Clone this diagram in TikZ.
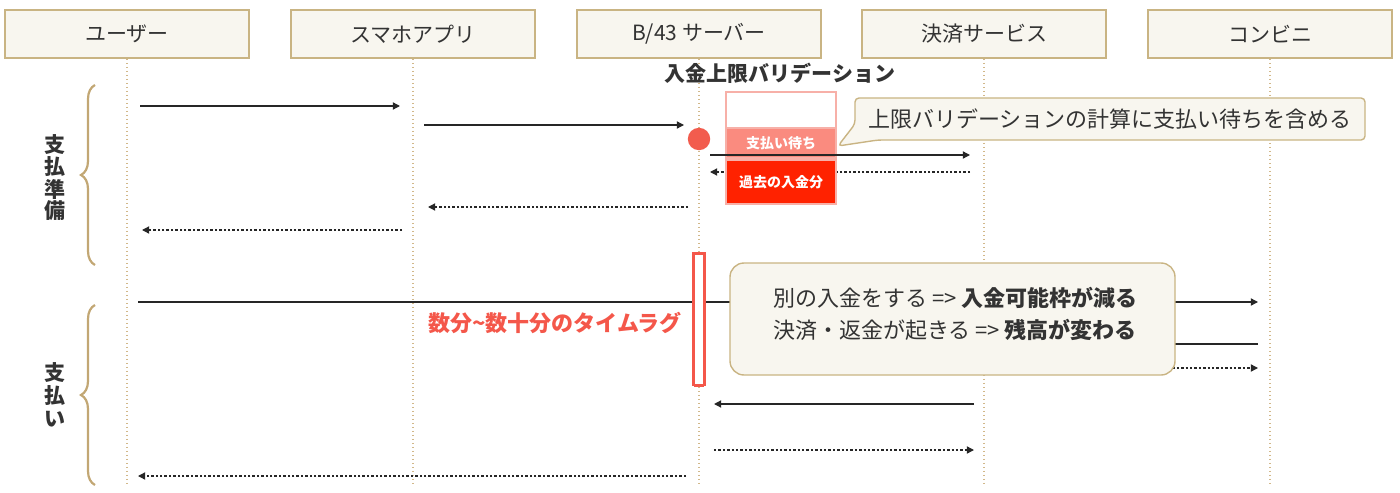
\documentclass[tikz,border=0pt]{standalone}
\usepackage{fontspec}
\setmainfont{Noto Sans CJK JP}
\usetikzlibrary{arrows.meta,decorations.pathreplacing,decorations.pathmorphing}
\definecolor{cream}{HTML}{F8F6EF}
\definecolor{tanline}{HTML}{C9B483}
\definecolor{lifecol}{HTML}{D2B88A}
\definecolor{bracecol}{HTML}{C2A774}
\definecolor{txt}{HTML}{333333}
\definecolor{dotred}{HTML}{F25C4E}
\definecolor{salmon}{HTML}{FA8B7F}
\definecolor{deepred}{HTML}{FF2200}
\definecolor{pinkline}{HTML}{F7B0A8}
\definecolor{lagred}{HTML}{F4574A}
\begin{document}
\begin{tikzpicture}[x=0.5pt,y=-0.5pt,
  header/.style={draw=tanline,line width=0.8pt,fill=cream,minimum width=122pt,minimum height=24pt,inner sep=0pt,text=txt,font=\fontsize{10.5}{12}\selectfont},
  lifeline/.style={draw=lifecol,line width=0.55pt,dash pattern=on 0.8pt off 1.2pt},
  msg/.style={draw=black!85,line width=0.65pt,-{Triangle[length=3.6pt,width=3.6pt]}},
  reply/.style={msg,dash pattern=on 1.2pt off 1pt},
  bracestyle/.style={draw=bracecol,line width=1.1pt,decorate,decoration={brace,amplitude=7pt}},
  sidelabel/.style={text=txt,inner sep=0pt,font=\bfseries\fontsize{10.5}{12}\selectfont},
  seg/.style={draw=pinkline,line width=0.6pt},
  segtext/.style={text=white,font=\bfseries\fontsize{7}{8}\selectfont},
  notebox/.style={draw=tanline,line width=0.7pt,fill=cream},
  notetext/.style={text=txt,font=\fontsize{11}{13}\selectfont},
]
\useasboundingbox (0,0) rectangle (1400,492);

% headers
\node[header] (hU) at (127,34) {ユーザー};
\node[header] (hA) at (413,34) {スマホアプリ};
\node[header] (hS) at (699,34) {B/43 サーバー};
\node[header] (hP) at (984,34) {決済サービス};
\node[header] (hC) at (1270,34) {コンビニ};

% lifelines
\foreach \h in {hU,hA,hS,hP,hC} \draw[lifeline] (\h.south) -- ++(0,427);

% braces and vertical labels
\draw[bracestyle] (95,265) -- (95,85);
\node[sidelabel] (lbPrepA) at (55,145) {支};
\node[sidelabel] (lbPrepB) at (55,167) {払};
\node[sidelabel] (lbPrepC) at (55,189) {準};
\node[sidelabel] (lbPrepD) at (55,211) {備};
\draw[bracestyle] (95,485) -- (95,305);
\node[sidelabel] (lbPayA) at (55,373) {支};
\node[sidelabel] (lbPayB) at (55,396) {払};
\node[sidelabel] (lbPayC) at (55,419) {い};

% messages: payment preparation
\draw[msg] (140,106) -- (400,106);
\draw[msg] (424,125) -- (684,125);
\draw[reply] (970,172) -- (710,172);
\draw[reply] (688,207) -- (428,207);
\draw[reply] (402,230) -- (142,230);

% messages: payment
\draw[msg] (138,302) -- (1258,302);
\draw[msg] (1258,344) -- (992,344);
\draw[reply] (992,368) -- (1258,368);
\draw[msg] (974,404) -- (714,404);
\draw[reply] (714,450) -- (974,450);
\draw[reply] (686,476) -- (138,476);

% validation title
\node[text=txt,font=\bfseries\fontsize{10.5}{12}\selectfont] (vtitle) at (780,73) {入金上限バリデーション};

% red dot
\fill[dotred] (699,139) circle (5.6pt);

% stacked bar
\draw[seg,fill=white] (726,92) rectangle (836,128);
\draw[seg,fill=salmon] (726,128) rectangle (836,158);
\draw[seg,fill=deepred] (726,160) rectangle (836,204);
\node[segtext] (sWait) at (781,143) {支払い待ち};
\node[segtext] (sPast) at (781,182) {過去の入金分};

\draw[msg] (710,155) -- (970,155);

% callout
\draw[notebox,rounded corners=2pt] (855,98) -- (1365,98) -- (1365,140) -- (878,140) -- (838,146) -- (855,124) -- cycle;
\node[notetext] (callout) at (1110,119) {上限バリデーションの計算に支払い待ちを含める};

% time lag box
\draw[draw=lagred,line width=1.1pt,fill=white] (693,253) rectangle (705,385);
\draw[draw=lagred,line width=0.5pt] (694.5,254.5) rectangle (703.5,386);
\node[text=lagred,font=\bfseries\fontsize{11}{13}\selectfont] (lag) at (555,323) {数分\textasciitilde 数十分のタイムラグ};

% big note
\draw[notebox,rounded corners=7pt] (730,263) rectangle (1175,375);
\node[notetext,anchor=west] (n1) at (766,298) {別の入金をする => \textbf{入金可能枠が減る}};
\node[notetext,anchor=west] (n2) at (766,330) {決済・返金が起きる => \textbf{残高が変わる}};
\end{tikzpicture}
\end{document}
